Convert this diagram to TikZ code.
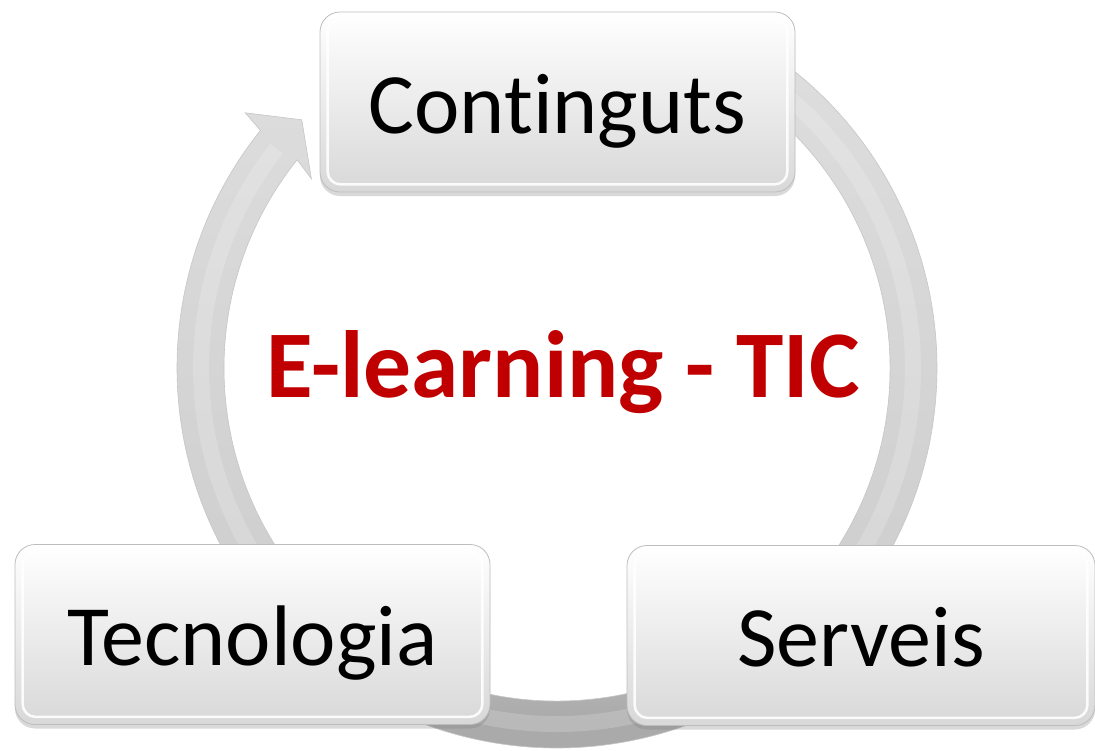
\documentclass[tikz,border=0pt]{standalone}
\usepackage{fontspec}
\setmainfont{Carlito}[Ligatures=NoCommon]
\usetikzlibrary{shadows}
\definecolor{ringdark}{HTML}{AAAAAA}
\definecolor{ringmid}{HTML}{CFCFCF}
\definecolor{ringlight}{HTML}{DEDEDE}
\definecolor{titlered}{HTML}{C00000}
\definecolor{boxedge}{HTML}{BDBDBD}
\definecolor{boxbottom}{HTML}{D8D8D8}
\pgfdeclareverticalshading{ringshade}{100bp}{color(0bp)=(ringdark); color(30bp)=(ringdark); color(40bp)=(ringmid); color(75bp)=(ringlight); color(100bp)=(ringlight)}
\tikzset{
  boxnode/.style={rounded corners=20pt, minimum height=180pt, draw=boxedge, line width=0.8pt,
    top color=white, bottom color=boxbottom, inner sep=0pt,
    drop shadow={opacity=0.3, shadow xshift=0pt, shadow yshift=-4pt},
    font=\fontsize{86}{90}\selectfont, text height=62pt, text depth=0pt},
  bevel/.style={rounded corners=13pt, draw=white, line width=2.5pt, opacity=0.9},
  ringbody/.style={shading=ringshade, draw=gray!45, line width=0.6pt},
  ringband/.style={draw=white, line width=16pt, opacity=0.18},
  title/.style={text=titlered, font=\fontsize{95.5}{100}\selectfont\bfseries, anchor=base, inner sep=0pt}
}
\begin{document}
\begin{tikzpicture}[x=1pt,y=1pt]
\useasboundingbox (0,0) rectangle (1095,-750);
\coordinate (C) at (557,-368);
% circular arrow
\begin{scope}[shift={(C)}]
  \path[ringbody] (141.3:380pt) arc[start angle=141.3, end angle=420, radius=380pt]
     -- (420:333pt) arc[start angle=420, end angle=141.3, radius=333pt]
     -- (142.4:310pt) -- (135.8:356pt) -- (140.7:403pt) -- cycle;
  \draw[ringband] (142:356pt) arc[start angle=142, end angle=420, radius=356pt];
\end{scope}
% centre title
\node[title] (title) at (563,-397) {E-learning - TIC};
% boxes
\node[boxnode, minimum width=475pt] (cont) at (557.5,-102) {Continguts};
\draw[bevel] ([xshift=8pt,yshift=-8pt]cont.north west) rectangle ([xshift=-8pt,yshift=8pt]cont.south east);
\node[boxnode, minimum width=475pt] (tec) at (252.5,-634.5) {Tecnologia};
\draw[bevel] ([xshift=8pt,yshift=-8pt]tec.north west) rectangle ([xshift=-8pt,yshift=8pt]tec.south east);
\node[boxnode, minimum width=468pt] (serv) at (861,-635.5) {Serveis};
\draw[bevel] ([xshift=8pt,yshift=-8pt]serv.north west) rectangle ([xshift=-8pt,yshift=8pt]serv.south east);
\end{tikzpicture}
\end{document}
